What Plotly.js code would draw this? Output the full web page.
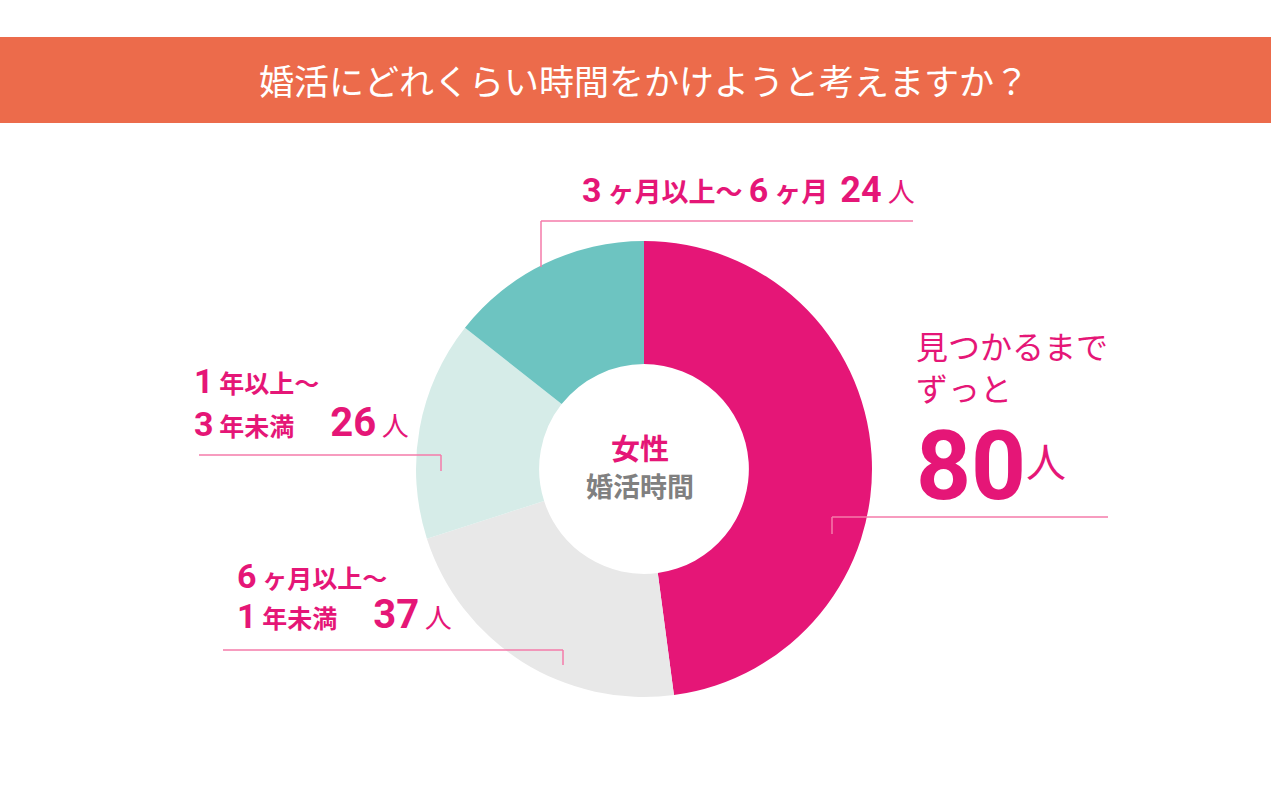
<!DOCTYPE html>
<html>
<head>
<meta charset="utf-8">
<script src="https://cdn.plot.ly/plotly-3.0.1.min.js"></script>
<style>html,body{margin:0;padding:0;background:#fff;}#chart{width:1273px;height:793px;}</style>
</head>
<body>
<div id="chart"></div>
<script>
const categories = ["見つかるまでずっと", "6ヶ月以上〜1年未満", "1年以上〜3年未満", "3ヶ月以上〜6ヶ月"];
const values = [80, 37, 26, 24];
const sliceColors = ["#E51677", "#E8E8E8", "#D6ECE8", "#6DC4C1"];
const unit = "人";
const chartTitle = "婚活にどれくらい時間をかけようと考えますか？";
const centerTop = "女性";
const centerBottom = "婚活時間";

const W = 1273, H = 793;
const px = x => x / W;
const py = y => 1 - y / H;
const PINK = "#E51677";
const LINE = "#F57BAA";
const FONT = "Noto Sans CJK JP, Noto Sans, sans-serif";
const NARROW = "Liberation Sans Narrow, Roboto, sans-serif";
const ROBOTO = "Roboto, Noto Sans, sans-serif";

const trace = {
  type: "pie",
  labels: categories,
  values: values,
  marker: {colors: sliceColors, line: {width: 0}},
  hole: 0.46,
  sort: false,
  direction: "clockwise",
  rotation: 0,
  textinfo: "none",
  hoverinfo: "label+value",
  showlegend: false,
  domain: {x: [px(416), px(872)], y: [py(697), py(241)]}
};

const sd = (t) => `<b><span style="font-family:${NARROW};font-size:34px">${t}</span></b>`;
const cj = (t) => `<b>${t}</b>`;
const big = (v) => `<b><span style="font-family:${ROBOTO};font-size:40px">${v}</span></b>`;
const un = (s) => `<span style="font-size:${s}px">${unit}</span>`;

const annotations = [
  {x: px(644), y: py(80), text: chartTitle, font: {size: 35, color: "#ffffff", family: FONT}, xanchor: "center", yanchor: "middle"},
  {x: px(640), y: py(447), text: `<b>${centerTop}</b>`, font: {size: 29, color: PINK, family: FONT}, xanchor: "center", yanchor: "middle"},
  {x: px(640), y: py(486), text: `<b>${centerBottom}</b>`, font: {size: 27, color: "#808080", family: FONT}, xanchor: "center", yanchor: "middle"},
  // top label
  {x: px(580), y: py(190), text: sd("3") + " " + cj("ヶ月以上〜") + " " + sd("6") + " " + cj("ヶ月") + "  " + `<b><span style="font-family:${ROBOTO};font-size:36px">${values[3]}</span></b>` + " " + un(27), font: {size: 27, color: PINK, family: FONT}, xanchor: "left", yanchor: "middle"},
  // left upper label
  {x: px(192), y: py(381), text: sd("1") + " " + cj("年以上〜"), font: {size: 25, color: PINK, family: FONT}, xanchor: "left", yanchor: "middle"},
  {x: px(192), y: py(422), text: sd("3") + " " + cj("年未満") + "　  " + big(values[2]) + " " + un(27), font: {size: 25, color: PINK, family: FONT}, xanchor: "left", yanchor: "middle"},
  // left lower label
  {x: px(235), y: py(576), text: sd("6") + " " + cj("ヶ月以上〜"), font: {size: 25, color: PINK, family: FONT}, xanchor: "left", yanchor: "middle"},
  {x: px(235), y: py(614), text: sd("1") + " " + cj("年未満") + "　  " + big(values[1]) + " " + un(27), font: {size: 25, color: PINK, family: FONT}, xanchor: "left", yanchor: "middle"},
  // right label
  {x: px(914), y: py(366), text: `見つかるまで<br>ずっと`, font: {size: 32, color: PINK, family: FONT}, xanchor: "left", yanchor: "middle", align: "left"},
  {x: px(914), y: py(466), text: `<b>${values[0]}</b>`, font: {size: 96, color: PINK, family: NARROW}, xanchor: "left", yanchor: "middle"},
  {x: px(1024), y: py(460), text: unit, font: {size: 40, color: PINK, family: FONT}, xanchor: "left", yanchor: "middle"}
].map(a => Object.assign({xref: "paper", yref: "paper", showarrow: false}, a));

function seg(x0, y0, x1, y1) {
  return {type: "line", xref: "paper", yref: "paper", x0: px(x0), y0: py(y0), x1: px(x1), y1: py(y1), line: {color: LINE, width: 1.5}};
}
const shapes = [
  {type: "rect", xref: "paper", yref: "paper", x0: 0, x1: px(1271), y0: py(123), y1: py(37), fillcolor: "#EC6B4B", line: {width: 0}, layer: "below"},
  seg(541, 221, 913, 221), seg(541, 221, 541, 267),
  seg(199, 455, 441, 455), seg(441, 455, 441, 471),
  seg(223, 650, 563, 650), seg(563, 650, 563, 665),
  seg(832, 517, 1108, 517), seg(832, 517, 832, 534)
];

const layout = {
  width: W, height: H,
  margin: {l: 0, r: 0, t: 0, b: 0},
  paper_bgcolor: "#ffffff",
  plot_bgcolor: "#ffffff",
  font: {family: FONT},
  annotations: annotations,
  shapes: shapes,
  showlegend: false
};

Plotly.newPlot("chart", [trace], layout, {displayModeBar: false, staticPlot: true});
</script>
</body>
</html>
